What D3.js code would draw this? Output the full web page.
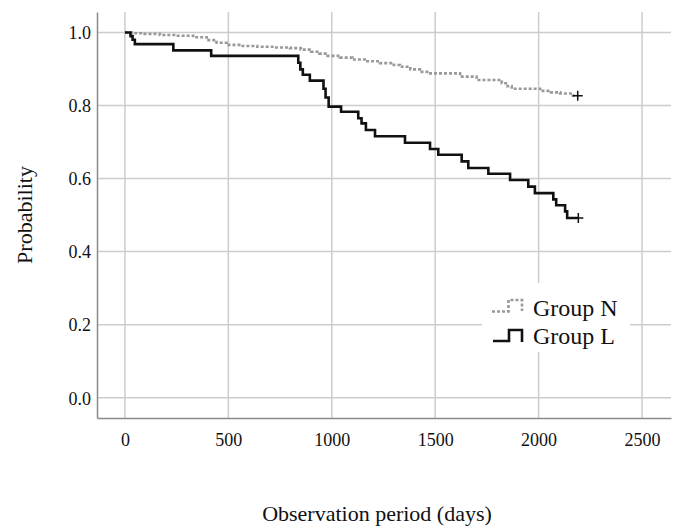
<!DOCTYPE html>
<html>
<head>
<meta charset="utf-8">
<script src="https://cdn.jsdelivr.net/npm/d3@7"></script>
<style>
  html, body { margin: 0; padding: 0; background: #fff; }
  svg { display: block; }
  text { font-family: "Liberation Serif", "Times New Roman", serif; fill: #111; }
</style>
</head>
<body>
<svg id="chart" width="678" height="526"></svg>
<script>
// ---- data ----
const groupNTimes = [0, 40, 89, 169, 250, 330, 395, 443, 491, 560, 640, 720, 798, 850, 900, 940, 980, 1040, 1100, 1160, 1233, 1300, 1330, 1380, 1426, 1470, 1620, 1700, 1822, 1850, 1870, 2007, 2060, 2104, 2166];
const groupNProb  = [1.0, 0.998, 0.996, 0.993, 0.991, 0.987, 0.979, 0.972, 0.966, 0.963, 0.961, 0.959, 0.957, 0.953, 0.947, 0.942, 0.936, 0.931, 0.926, 0.921, 0.916, 0.911, 0.906, 0.899, 0.892, 0.888, 0.879, 0.870, 0.861, 0.853, 0.846, 0.840, 0.836, 0.833, 0.827];
const groupNEnd = 2189;

const groupLTimes = [0, 27, 37, 48, 234, 417, 838, 848, 860, 894, 960, 970, 985, 1045, 1128, 1144, 1165, 1209, 1354, 1475, 1515, 1628, 1660, 1757, 1862, 1950, 1982, 2071, 2085, 2128, 2138];
const groupLProb  = [1.0, 0.99, 0.98, 0.968, 0.951, 0.936, 0.917, 0.899, 0.884, 0.868, 0.846, 0.822, 0.797, 0.783, 0.765, 0.751, 0.733, 0.716, 0.698, 0.681, 0.665, 0.647, 0.629, 0.613, 0.596, 0.578, 0.560, 0.543, 0.527, 0.510, 0.492];
const groupLEnd = 2192;

const xTicks = [0, 500, 1000, 1500, 2000, 2500];
const yTicks = [0.0, 0.2, 0.4, 0.6, 0.8, 1.0];
const seriesNames = ["Group N", "Group L"];

// ---- layout ----
const svg = d3.select("#chart");
const pL = 97, pR = 671, pT = 12, pB = 418;

const x = d3.scaleLinear().domain([-135, 2640]).range([pL, pR]);
const y = d3.scaleLinear().domain([-0.0556, 1.056]).range([pB, pT]);

// grid
const grid = svg.append("g");
grid.selectAll("line.v").data(xTicks).join("line")
  .attr("x1", d => x(d)).attr("x2", d => x(d))
  .attr("y1", pT).attr("y2", pB)
  .attr("stroke", "#cccccc").attr("stroke-width", 1.5);
grid.selectAll("line.h").data(yTicks).join("line")
  .attr("x1", pL).attr("x2", pR)
  .attr("y1", d => y(d)).attr("y2", d => y(d))
  .attr("stroke", "#cccccc").attr("stroke-width", 1.5);

// axes
const xAxis = d3.axisBottom(x).tickValues(xTicks).tickSize(0).tickPadding(12).tickFormat(d3.format("d"));
const yAxis = d3.axisLeft(y).tickValues(yTicks).tickSize(0).tickPadding(6).tickFormat(d3.format(".1f"));

const gx = svg.append("g").attr("transform", `translate(0,${pB})`).call(xAxis);
const gy = svg.append("g").attr("transform", `translate(${pL},0)`).call(yAxis);
[gx, gy].forEach(g => {
  g.attr("font-family", null).attr("font-size", null);
  g.select(".domain").attr("stroke", "#8a8a8a").attr("stroke-width", 1.5);
  g.selectAll("text").attr("font-size", 18).attr("fill", "#111")
    .style("font-family", '"Liberation Serif", "Times New Roman", serif');
});
gx.selectAll("text").attr("dy", "0.9em");
gy.selectAll("text").attr("dy", "0.35em");

// lines
const line = d3.line().x(d => x(d[0])).y(d => y(d[1])).curve(d3.curveStepAfter);
function series(times, probs, end) {
  const pts = times.map((t, i) => [t, probs[i]]);
  pts.push([end, probs[probs.length - 1]]);
  return pts;
}
const nPts = series(groupNTimes, groupNProb, groupNEnd);
const lPts = series(groupLTimes, groupLProb, groupLEnd);

svg.append("path").datum(nPts).attr("d", line)
  .attr("fill", "none").attr("stroke", "#999999").attr("stroke-width", 2.6)
  .attr("stroke-dasharray", "3,2");
svg.append("path").datum(lPts).attr("d", line)
  .attr("fill", "none").attr("stroke", "#111").attr("stroke-width", 2.6);

// censor marks
const cens = [[groupNEnd, groupNProb[groupNProb.length - 1]], [groupLEnd, groupLProb[groupLProb.length - 1]]];
cens.forEach(c => {
  const cx = x(c[0]), cy = y(c[1]);
  svg.append("path").attr("d", `M${cx - 5},${cy}H${cx + 5}M${cx},${cy - 5}V${cy + 5}`)
    .attr("stroke", "#111").attr("stroke-width", 1.5);
});

// legend
const lg = svg.append("g");
lg.append("rect").attr("x", 482).attr("y", 283).attr("width", 148).attr("height", 69).attr("fill", "#fff");
lg.append("path").attr("d", "M492,311.5H508.5V300H522V311")
  .attr("fill", "none").attr("stroke", "#999999").attr("stroke-width", 2.6).attr("stroke-dasharray", "3,2");
lg.append("path").attr("d", "M493,341H509V330H522V342")
  .attr("fill", "none").attr("stroke", "#111").attr("stroke-width", 2.6);
lg.append("text").attr("x", 533).attr("y", 316).attr("font-size", 24).text(seriesNames[0]);
lg.append("text").attr("x", 533).attr("y", 344).attr("font-size", 24).text(seriesNames[1]);

// titles
svg.append("text").attr("x", 377).attr("y", 521).attr("text-anchor", "middle")
  .attr("font-size", 22).text("Observation period (days)");
svg.append("text").attr("transform", "translate(32,215) rotate(-90)").attr("text-anchor", "middle")
  .attr("font-size", 22).text("Probability");
</script>
</body>
</html>
